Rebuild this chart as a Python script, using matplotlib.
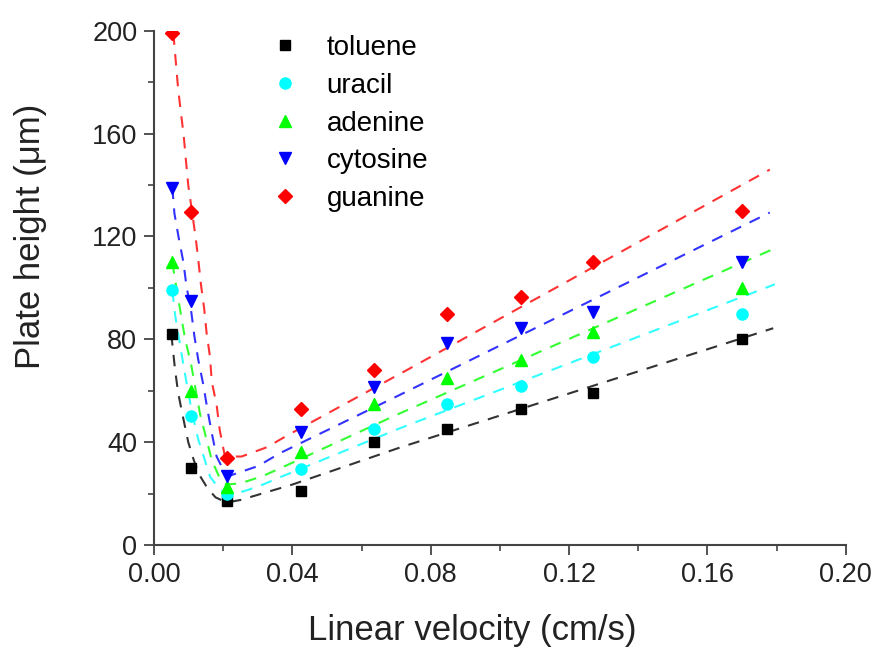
import matplotlib
matplotlib.use('Agg')
import matplotlib.pyplot as plt
from matplotlib.ticker import MultipleLocator

plt.rcParams['font.family'] = ['Liberation Sans', 'DejaVu Sans']

# measured points
velocity = [0.0053, 0.0106, 0.0212, 0.0424, 0.0636, 0.0848, 0.106, 0.127, 0.170]
toluene = [82, 30, 17, 21, 40, 45, 53, 59, 80]
uracil = [99, 50, 20, 29.5, 45, 55, 62, 73, 90]
adenine = [110, 60, 22.5, 36, 55, 65, 72, 83, 100]
cytosine = [139, 95, 27, 44, 61.5, 78.5, 84.5, 90.5, 110]
guanine = [199, 129.5, 34, 53, 68, 90, 96.5, 110, 130]

# dashed fit curves
fit_x_toluene = [0.0050, 0.0061, 0.0070, 0.0085, 0.0099, 0.0115, 0.0130, 0.0155, 0.0178, 0.0210, 0.0250, 0.0300, 0.0400, 0.0711, 0.1790]
fit_toluene = [82, 68, 59, 49, 40, 33, 27.5, 22, 18.5, 16.5, 17.5, 19.5, 23.5, 37.9, 84.3]

fit_x_uracil = [0.0053, 0.0061, 0.0085, 0.0109, 0.0128, 0.0147, 0.0162, 0.0190, 0.0215, 0.0250, 0.0301, 0.0369, 0.0711, 0.1795]
fit_uracil = [99, 89.5, 70, 52, 41, 33, 26.6, 21.5, 20, 20.5, 22.7, 26.6, 45.4, 101.4]

fit_x_adenine = [0.0053, 0.0066, 0.0078, 0.0090, 0.0107, 0.0133, 0.0150, 0.0167, 0.0190, 0.0210, 0.0250, 0.0311, 0.0379, 0.0711, 0.1795]
fit_adenine = [110, 99, 89.5, 80, 70.5, 51, 42, 33, 26, 23.5, 24, 26.6, 30.7, 51.2, 115.4]

fit_x_cytosine = [0.0053, 0.0059, 0.0072, 0.0085, 0.0094, 0.0107, 0.0117, 0.0128, 0.0143, 0.0154, 0.0167, 0.0181, 0.0205, 0.0220, 0.0301, 0.0364, 0.0711, 0.1780]
fit_cytosine = [139, 129, 119, 110, 100.5, 91.4, 81, 72, 62, 53, 43.5, 34.4, 28, 27, 30.7, 35.7, 58.4, 129.3]

fit_x_guanine = [0.0056, 0.0063, 0.0070, 0.0078, 0.0086, 0.0092, 0.0099, 0.0120, 0.0128, 0.0136, 0.0145, 0.0152, 0.0162, 0.0167, 0.0181, 0.0190, 0.0205, 0.0253, 0.0326, 0.0388, 0.0740, 0.1780]
fit_guanine = [199, 188, 177, 168, 159, 150, 140, 120, 111, 101, 92, 82.5, 73, 63.5, 54.5, 44.7, 34.4, 34.4, 38, 42.8, 68.7, 146]

names = ['toluene', 'uracil', 'adenine', 'cytosine', 'guanine']
colors = ['#000000', '#00ffff', '#00ff00', '#0000ff', '#ff0000']
markers = ['s', 'o', '^', 'v', 'D']
msizes = [6.5, 8, 8.5, 8.5, 7]

points = [toluene, uracil, adenine, cytosine, guanine]
fits = [(fit_x_toluene, fit_toluene), (fit_x_uracil, fit_uracil), (fit_x_adenine, fit_adenine),
        (fit_x_cytosine, fit_cytosine), (fit_x_guanine, fit_guanine)]

fig = plt.figure(figsize=(8.78, 6.55), dpi=100)
ax = fig.add_axes([0.1754, 0.168, 0.788, 0.785])

for i in range(len(names)):
    fx, fy = fits[i]
    ax.plot(fx, fy, linestyle=(0, (5.5, 4.5)), color=colors[i], linewidth=1.5, alpha=0.8, zorder=2)
    ax.plot(velocity, points[i], linestyle='none', marker=markers[i], color=colors[i],
            markersize=msizes[i], label=names[i], zorder=3)

ax.set_xlim(0, 0.20)
ax.set_ylim(0, 200)
ax.xaxis.set_major_locator(MultipleLocator(0.04))
ax.xaxis.set_minor_locator(MultipleLocator(0.02))
ax.yaxis.set_major_locator(MultipleLocator(40))
ax.yaxis.set_minor_locator(MultipleLocator(20))
ax.set_xticklabels([f'{v:.2f}' for v in ax.get_xticks()])

for s in ['top', 'right']:
    ax.spines[s].set_visible(False)
for s in ['left', 'bottom']:
    ax.spines[s].set_color('#444444')
    ax.spines[s].set_linewidth(1.5)

ax.tick_params(which='major', direction='out', length=7, width=1.3, color='#444444',
               labelsize=19.5, labelcolor='#222222', pad=5)
ax.tick_params(which='minor', direction='out', length=4, width=1.2, color='#444444')

ax.set_xlabel('Linear velocity (cm/s)', fontsize=25, color='#222222')
ax.set_ylabel('Plate height (\u03bcm)', fontsize=25, color='#222222')
ax.xaxis.set_label_coords(0.46, -0.135)
ax.yaxis.set_label_coords(-0.155, 0.6)

ax.legend(loc='upper left', bbox_to_anchor=(0.125, 1.04), frameon=False, fontsize=20,
          handletextpad=0.8, labelspacing=0.42, markerscale=1.0, handlelength=1.4)

fig.savefig('out.png', dpi=100)
